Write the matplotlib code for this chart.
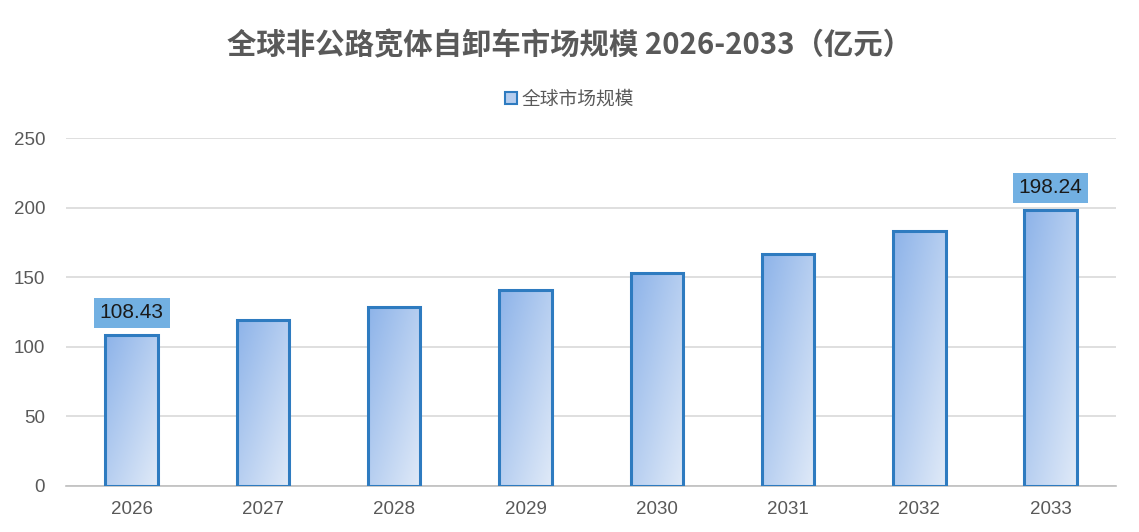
import numpy as np
import matplotlib
matplotlib.use("Agg")
import matplotlib.pyplot as plt
from matplotlib.colors import LinearSegmentedColormap
from matplotlib.patches import Rectangle

plt.rcParams["font.family"] = ["Noto Sans CJK SC", "DejaVu Sans"]

years = ["2026", "2027", "2028", "2029", "2030", "2031", "2032", "2033"]
market_size = [108.43, 119.3, 128.6, 140.8, 153.0, 166.7, 183.2, 198.24]
labeled = {0: "108.43", 7: "198.24"}

title = "全球非公路宽体自卸车市场规模 2026-2033（亿元）"
series_name = "全球市场规模"

edge_color = "#2e7bc0"
grad = LinearSegmentedColormap.from_list("bar", ["#8db3e9", "#e0eaf8"])

fig = plt.figure(figsize=(11.39, 5.32), dpi=100)
ax = fig.add_axes([0.058, 0.0865, 0.922, 0.654])

x = np.arange(len(years))
width = 0.4
bars = ax.bar(x, market_size, width=width, color="none", edgecolor=edge_color,
              linewidth=2.2, zorder=3)

# diagonal gradient fill, clipped to each bar
gy, gx = np.mgrid[0:1:100j, 0:1:100j]
gradient = (gx + gy) / 2
for rect in bars:
    x0, w, h = rect.get_x(), rect.get_width(), rect.get_height()
    im = ax.imshow(gradient, cmap=grad, extent=[x0, x0 + w, 0, h], origin="upper",
                   aspect="auto", zorder=2, interpolation="bilinear")
    clip = Rectangle((x0, 0), w, h, transform=ax.transData)
    im.set_clip_path(clip)

for i, text in labeled.items():
    ax.annotate(text, (x[i], market_size[i]), xytext=(0, 16), textcoords="offset points",
                ha="center", va="center", fontsize=15, color="#1a1a1a",
                family=["Liberation Sans", "DejaVu Sans"],
                bbox=dict(boxstyle="square,pad=0.28", fc="#72b0e2", ec="none"), zorder=5)

ax.set_xlim(-0.5, len(years) - 0.5)
ax.set_ylim(0, 250)
ax.set_yticks(range(0, 251, 50))
ax.set_xticks(x)
ax.set_xticklabels(years)
ax.grid(axis="y", color="#d9d9d9", linewidth=1.2, zorder=0)
ax.set_axisbelow(True)
for side in ["top", "right", "left"]:
    ax.spines[side].set_visible(False)
ax.spines["bottom"].set_color("#bfbfbf")
ax.spines["bottom"].set_linewidth(1.2)
ax.tick_params(length=0, labelsize=13.5, labelcolor="#595959")
ax.tick_params(axis="x", pad=11)
ax.tick_params(axis="y", pad=15)
for lbl in ax.get_xticklabels() + ax.get_yticklabels():
    lbl.set_family(["Liberation Sans", "DejaVu Sans"])

fig.text(0.5, 0.915, title, ha="center", va="center", fontsize=21.2,
         fontweight="bold", color="#595959")

handle = Rectangle((0, 0), 1, 1, fc="#b5cdef", ec=edge_color, lw=1.5)
fig.legend([handle], [series_name], loc="center", bbox_to_anchor=(0.5, 0.814),
           frameon=False, fontsize=13.5, handlelength=0.65, handleheight=0.65,
           handletextpad=0.25, labelcolor="#595959")

fig.savefig("out.png", dpi=100)
